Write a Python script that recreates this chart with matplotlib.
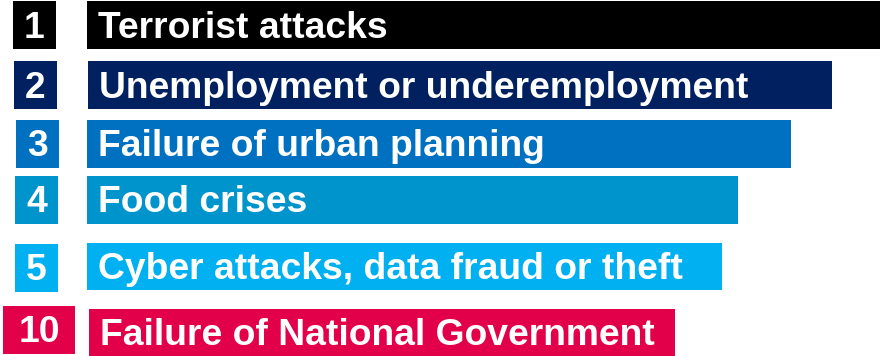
import matplotlib
matplotlib.use("Agg")
import matplotlib.pyplot as plt

# ---- data ----
ranks = ["1", "2", "3", "4", "5", "10"]
categories = [
    "Terrorist attacks",
    "Unemployment or underemployment",
    "Failure of urban planning",
    "Food crises",
    "Cyber attacks, data fraud or theft",
    "Failure of National Government",
]
values = [793, 744, 704, 651, 635, 586]  # bar lengths (relative)
colors = ["#000000", "#002060", "#0070C0", "#0094CC", "#00B0F0", "#E3004A"]

# ---- layout (pixel-like units) ----
row_center = [25, 85, 144, 200, 266.5, 332.5]
bar_h = [48, 48, 48, 48, 47, 47]
bar_left = [87, 88, 87, 87, 87, 89]
box_left = [13, 14, 16, 15, 15, 3]
box_w = [43, 43, 43, 43, 43, 72]
box_center = [25, 85, 144, 200, 267.5, 330]

W, H = 880, 356
fig = plt.figure(figsize=(W / 100, H / 100), dpi=100)
ax = fig.add_axes([0, 0, 1, 1])
ax.set_xlim(0, W)
ax.set_ylim(H, 0)
ax.axis("off")

font = dict(family=["Liberation Sans", "DejaVu Sans"], weight="bold",
            color="white", fontsize=26.8)

for i in range(len(categories)):
    ax.barh(row_center[i], values[i], left=bar_left[i], height=bar_h[i],
            color=colors[i], linewidth=0)
    ax.barh(box_center[i], box_w[i], left=box_left[i], height=48,
            color=colors[i], linewidth=0)
    ax.text(bar_left[i] + 11, row_center[i] + 12.5, categories[i],
            ha="left", va="baseline", **font)
    ax.text(box_left[i] + box_w[i] / 2, box_center[i] + 12.5, ranks[i],
            ha="center", va="baseline", **font)

fig.savefig("out.png", dpi=100)
